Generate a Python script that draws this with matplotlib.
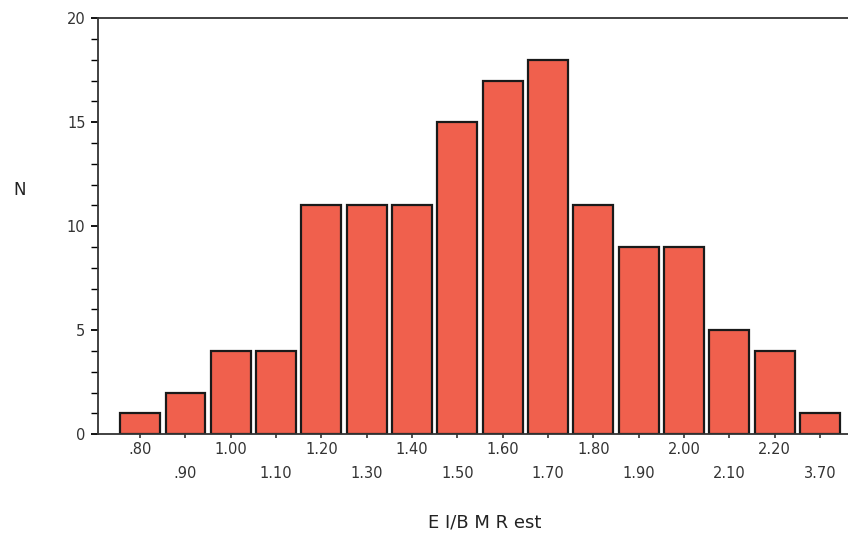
import matplotlib.pyplot as plt
import numpy as np

# EI/BMRest histogram counts per bin
bins = ['.80', '.90', '1.00', '1.10', '1.20', '1.30', '1.40', '1.50',
        '1.60', '1.70', '1.80', '1.90', '2.00', '2.10', '2.20', '3.70']
counts = [1, 2, 4, 4, 11, 11, 11, 15, 17, 18, 11, 9, 9, 5, 4, 1]


def plot_hist():
    fig = plt.figure(figsize=(8.48, 5.34), dpi=100)
    ax = fig.add_axes([0.1156, 0.187, 0.8844, 0.779])

    pos = np.arange(len(bins))
    ax.bar(pos, counts, width=0.88, color='#F0604D', edgecolor='#1a1a1a',
           linewidth=1.6)

    ax.set_xlim(-0.93, 15.62)
    ax.set_ylim(0, 20)

    # alternate labels on two rows so they don't collide
    labels = [b if i % 2 == 0 else '\n' + b for i, b in enumerate(bins)]
    ax.set_xticks(pos)
    ax.set_xticklabels(labels, fontsize=10.5, color='#333333',
                       linespacing=1.75)
    ax.tick_params(axis='x', length=3, width=1.2, pad=3, color='#333333')

    ax.set_yticks([0, 5, 10, 15, 20])
    ax.set_yticks(range(0, 21), minor=True)
    ax.tick_params(axis='y', which='major', length=5, width=1.3,
                   labelsize=10.5, labelcolor='#333333', pad=4)
    ax.tick_params(axis='y', which='minor', length=5, width=1.0)

    ax.spines['right'].set_visible(False)
    for s in ['left', 'bottom', 'top']:
        ax.spines[s].set_linewidth(1.3)
        ax.spines[s].set_color('#333333')

    ax.set_xlabel('E I/B M R est', fontsize=13, color='#222222')
    ax.xaxis.set_label_coords(0.516, -0.19)
    ax.set_ylabel('N', fontsize=12, rotation=0, color='#222222')
    ax.yaxis.set_label_coords(-0.105, 0.565)

    plt.savefig('out.png', dpi=100)


if __name__ == '__main__':
    plot_hist()
